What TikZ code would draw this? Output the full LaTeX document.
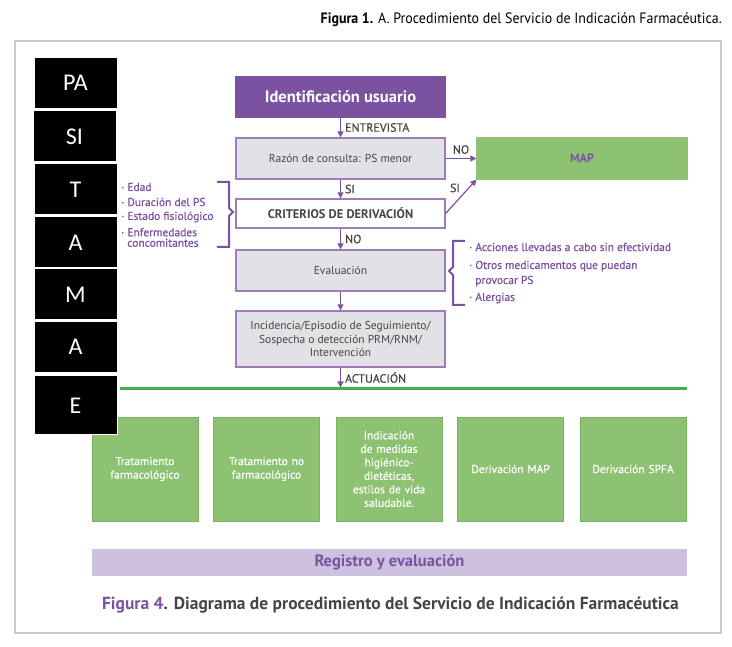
\documentclass[tikz,border=0pt]{standalone}
\usepackage{fontspec}
\setmainfont{PT Sans}
\newfontfamily\letrafont{Carlito}
\newfontfamily\mediafont[FakeBold=0.6]{PT Sans}
\usetikzlibrary{arrows.meta,calc}
\definecolor{lila}{HTML}{7B52A0}
\definecolor{lilaclaro}{HTML}{CEC1E0}
\definecolor{gris}{HTML}{E2E2E6}
\definecolor{textogris}{HTML}{454545}
\definecolor{verde}{HTML}{8CC271}
\definecolor{verdeosc}{HTML}{45AD4E}
\definecolor{marcogris}{HTML}{C9C9C9}

\begin{document}
\begin{tikzpicture}[x=1pt,y=1pt,
    letra/.style={fill=black,draw=white,line width=1pt,text=white,minimum width=83pt,minimum height=51pt,inner sep=0pt,font=\letrafont\fontsize{24}{24}\selectfont},
    paso/.style={fill=gris,draw=lila!75,line width=1.2pt,text=textogris,minimum width=209pt,minimum height=41pt,inner sep=2pt,align=center,font=\fontsize{11.5}{13.5}\selectfont},
    accion/.style={fill=verde,draw=verde!90!black,line width=0.4pt,text=white,minimum width=106pt,minimum height=104pt,text width=98pt,inner sep=4pt,align=center,font=\mediafont\fontsize{11.5}{13.5}\selectfont},
    flecha/.style={-{Triangle[width=6pt,length=6pt]},lila,line width=1.2pt},
    etiq/.style={text=textogris,inner sep=4pt,font=\mediafont\fontsize{12}{12}\selectfont},
    lista/.style={text=lila,anchor=west,inner sep=0pt,align=left,font=\mediafont\fontsize{11.5}{11.5}\selectfont},
    corchete/.style={lila,line width=2pt,line join=miter}
  ]
  \useasboundingbox (0,0) rectangle (732,-647);

  \node[anchor=east,inner sep=0pt] (fig1) at (722,-20) {\scalebox{0.93}[1]{\fontsize{15}{15}\selectfont\textbf{Figura 1.} A. Procedimiento del Servicio de Indicación Farmacéutica.}};
  \draw[marcogris,line width=1.3pt] (15,-41) rectangle (721,-633);

  % pasos del servicio
  \node[paso,fill=lila,draw=lila,text=white,minimum height=40pt,font=\bfseries\fontsize{16.5}{18}\selectfont] (ident) at (340.5,-97) {Identificación usuario};
  \node[paso] (razon) at (340.5,-158.5) {Razón de consulta: PS menor};
  \node[paso,fill=verde,draw=verde,text=lila,minimum width=210pt,font=\bfseries\fontsize{12}{13}\selectfont] (map) at (582,-158.5) {MAP};
  \node[paso,fill=white,minimum height=29pt,font=\bfseries\fontsize{12.5}{13}\selectfont] (crit) at (340.5,-213.5) {CRITERIOS DE DERIVACIÓN};
  \node[paso] (eval) at (340.5,-270.5) {Evaluación};
  \node[paso,minimum height=56pt] (inc) at (340.5,-339) {Incidencia/Episodio de Seguimiento/\\Sospecha o detección PRM/RNM/\\Intervención};

  \coordinate (lineaI) at (120,-389);
  \coordinate (lineaD) at (687,-389);
  \draw[verdeosc,line width=3pt] (lineaI) -- (lineaD);

  \draw[flecha] (ident) -- node[etiq,right] {ENTREVISTA} (razon);
  \draw[flecha] (razon) -- node[etiq,above] {NO} (map);
  \draw[flecha] (razon) -- node[etiq,right] {SI} (crit);
  \draw[flecha] (crit.east) -- node[etiq,above left,pos=0.55,inner sep=2pt] {SI} (map.south west);
  \draw[flecha] (crit) -- node[etiq,right] {NO} (eval);
  \draw[flecha] (eval) -- (inc);
  \draw[flecha] (inc.south) -- node[etiq,right] {ACTUACIÓN} ($(inc.south |- lineaI)+(0,1.5)$);

  % criterios y evaluacion
  \draw[corchete] (217,-182) -- (229,-182) -- (229,-208) -- (233,-212) -- (229,-216) -- (229,-247) -- (217,-247);
  \node[lista] (edad) at (121,-187) {· Edad};
  \node[lista] (durac) at (121,-202) {· Duración del PS};
  \node[lista] (estado) at (121,-217) {· Estado fisiológico};
  \node[lista,font=\mediafont\fontsize{11.5}{10.5}\selectfont] (enferm) at (121,-237.5) {· Enfermedades\\\phantom{· }concomitantes};

  \draw[corchete] (465,-241) -- (453,-241) -- (453,-267) -- (449,-271) -- (453,-275) -- (453,-305) -- (465,-305);
  \node[lista] (acciones) at (469,-247) {· Acciones llevadas a cabo sin efectividad};
  \node[lista,font=\mediafont\fontsize{11.5}{15}\selectfont] (otros) at (469,-273.5) {· Otros medicamentos que puedan\\\phantom{· }provocar PS};
  \node[lista] (alergias) at (469,-298) {· Alergias};

  % actuaciones
  \node[accion] (tratf) at (145,-469) {Tratamiento\\farmacológico};
  \node[accion] (tratnf) at (266.5,-469) {Tratamiento no\\farmacológico};
  \node[accion] (medidas) at (389,-469) {Indicación\\de medidas\\higiénico-\\dietéticas,\\estilos de vida\\saludable.};
  \node[accion] (dermap) at (510.5,-469) {Derivación MAP};
  \node[accion] (derspfa) at (633,-469) {Derivación SPFA};

  \node[fill=lilaclaro,minimum width=595pt,minimum height=27pt,inner sep=0pt,text=lila,font=\bfseries\fontsize{16.5}{16.5}\selectfont] (registro) at (389.5,-562.5) {Registro y evaluación};
  \node[inner sep=0pt,text=textogris,font=\bfseries\fontsize{17.5}{17.5}\selectfont] (fig4) at (390.5,-605) {\textcolor{lila}{Figura 4}. Diagrama de procedimiento del Servicio de Indicación Farmacéutica};

  % PASITAMAE
  \node[letra] (pa) at (75.5,-83) {PA};
  \node[letra] (si) at (74.5,-136.5) {SI};
  \node[letra] (t) at (75.5,-189.5) {T};
  \node[letra] (a1) at (75.5,-242.5) {A};
  \node[letra] (m) at (75.5,-294.5) {M};
  \node[letra] (a2) at (75.5,-347) {A};
  \node[letra,minimum height=59pt] (e) at (75.5,-405.5) {E};
\end{tikzpicture}
\end{document}
